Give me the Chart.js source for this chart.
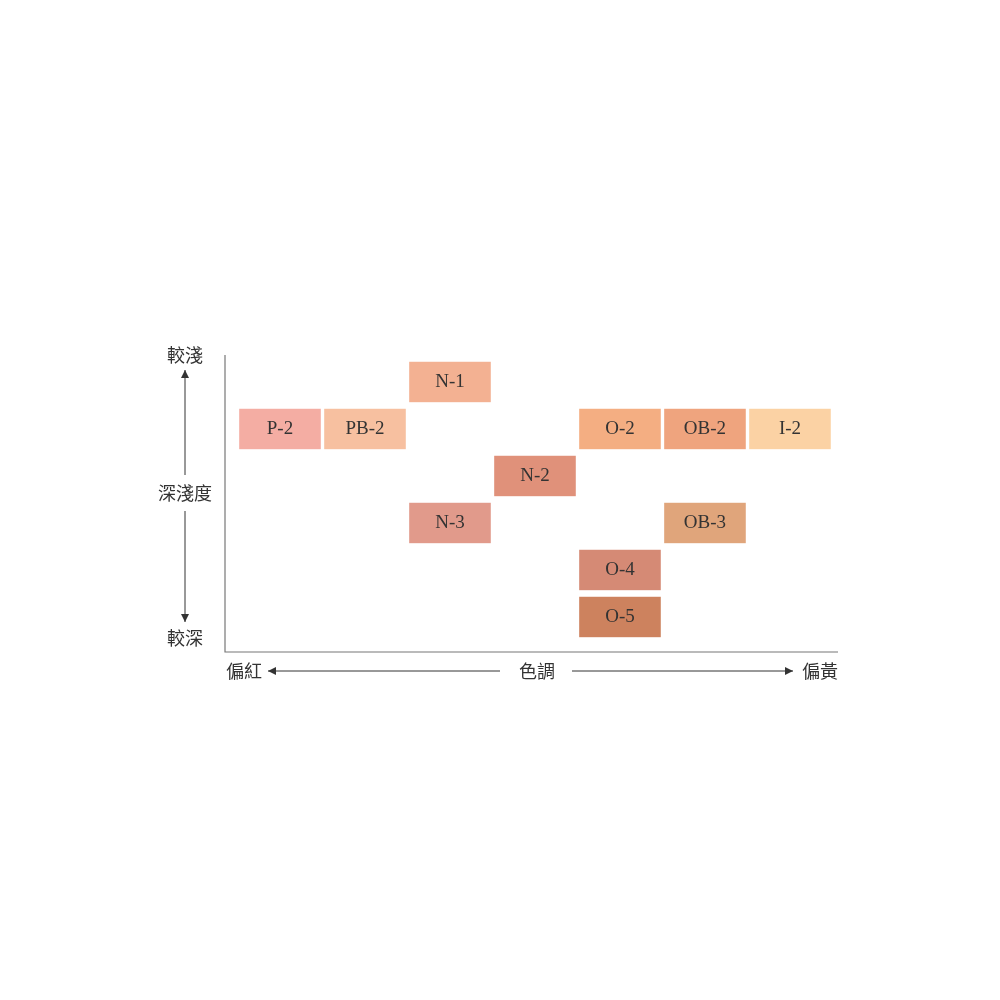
<!DOCTYPE html>
<html><head><meta charset="utf-8">
<script src="https://cdn.jsdelivr.net/npm/chart.js@4"></script>
<style>html,body{margin:0;background:#fff}</style>
</head><body>
<canvas id="c" width="1000" height="1000"></canvas>
<script>
// shade names, column (red → yellow), row (light → deep), fill colour
const shades = ['N-1', 'P-2', 'PB-2', 'O-2', 'OB-2', 'I-2', 'N-2', 'N-3', 'OB-3', 'O-4', 'O-5'];
const cols   = [2, 0, 1, 4, 5, 6, 3, 2, 5, 4, 4];
const rows   = [0, 1, 1, 1, 1, 1, 2, 3, 3, 4, 5];
const colors = ['#f3b192', '#f4ada3', '#f7c0a0', '#f4ae82', '#efa47e', '#fbd2a4',
                '#e0917a', '#e19a8b', '#e0a57b', '#d58a75', '#cd825e'];

const TXT = '#333';
const CJK = '"Noto Sans CJK TC", sans-serif';

function arrow(ctx, x1, y1, x2, y2) {
  ctx.beginPath(); ctx.moveTo(x1, y1); ctx.lineTo(x2, y2); ctx.stroke();
  const a = Math.atan2(y2 - y1, x2 - x1), s = 8;
  ctx.beginPath();
  ctx.moveTo(x2, y2);
  ctx.lineTo(x2 - s * Math.cos(a) + 4 * Math.sin(a), y2 - s * Math.sin(a) - 4 * Math.cos(a));
  ctx.lineTo(x2 - s * Math.cos(a) - 4 * Math.sin(a), y2 - s * Math.sin(a) + 4 * Math.cos(a));
  ctx.closePath(); ctx.fill();
}

const boxes = {
  id: 'boxes',
  afterDatasetsDraw(chart) {
    const { ctx, scales: { x, y }, chartArea: a } = chart;
    ctx.save();
    shades.forEach((s, i) => {
      const l = x.getPixelForValue(cols[i] - 0.48), r = x.getPixelForValue(cols[i] + 0.48);
      const t = y.getPixelForValue(rows[i] - 0.43), b = y.getPixelForValue(rows[i] + 0.43);
      ctx.fillStyle = colors[i];
      ctx.fillRect(l, t, r - l, b - t);
      ctx.fillStyle = TXT;
      ctx.font = '19px "Liberation Serif", serif';
      ctx.textAlign = 'center'; ctx.textBaseline = 'middle';
      ctx.fillText(s, (l + r) / 2, (t + b) / 2);
    });
    // axes
    ctx.strokeStyle = '#777'; ctx.lineWidth = 1.2;
    ctx.beginPath();
    ctx.moveTo(a.left, a.top); ctx.lineTo(a.left, a.bottom); ctx.lineTo(a.right, a.bottom);
    ctx.stroke();
    // labels
    ctx.fillStyle = TXT; ctx.strokeStyle = TXT; ctx.lineWidth = 1;
    ctx.font = '18px ' + CJK;
    ctx.textAlign = 'center'; ctx.textBaseline = 'middle';
    ctx.fillText('較淺', 185, 355);
    ctx.fillText('深淺度', 185, 493);
    ctx.fillText('較深', 185, 638);
    ctx.fillText('偏紅', 244, 671);
    ctx.fillText('色調', 537, 671);
    ctx.fillText('偏黃', 820, 671);
    arrow(ctx, 185, 475, 185, 370);
    arrow(ctx, 185, 511, 185, 622);
    arrow(ctx, 500, 671, 268, 671);
    arrow(ctx, 572, 671, 793, 671);
    ctx.restore();
  }
};

new Chart(document.getElementById('c'), {
  type: 'scatter',
  data: { datasets: [{ data: cols.map((c, i) => ({ x: c, y: rows[i] })), pointRadius: 0 }] },
  options: {
    responsive: false, animation: false,
    layout: { padding: { left: 225, right: 162, top: 355, bottom: 348 } },
    plugins: { legend: { display: false }, tooltip: { enabled: false } },
    scales: {
      x: { type: 'linear', min: -0.647, max: 6.565, display: false },
      y: { type: 'linear', min: -0.574, max: 5.745, reverse: true, display: false }
    }
  },
  plugins: [boxes]
});
</script>
</body></html>
